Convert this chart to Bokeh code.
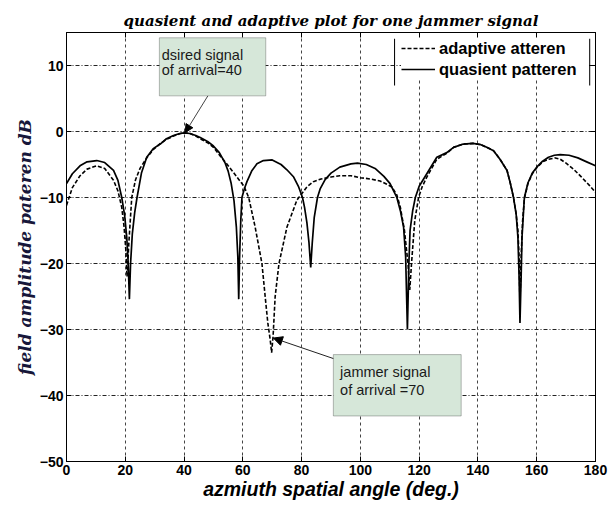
from bokeh.plotting import figure
from bokeh.models import (Range1d, FixedTicker, Legend, LegendItem, BoxAnnotation,
                          Label, Arrow, NormalHead, LinearAxis)
from bokeh.embed import file_html
from bokeh.resources import INLINE

# ---------------- data ----------------
x_ticks = [0, 20, 40, 60, 80, 100, 120, 140, 160, 180]
y_ticks = [-50, -40, -30, -20, -10, 0, 10]

quiescent_angle = [
    0, 2, 4.6, 7, 10.3, 13, 16, 17.5, 18.8, 19.8,
    20.5, 21.0, 21.4, 21.8, 22.4, 23.2, 24, 25.5, 27.3, 29.5,
    31.9, 34, 36.4, 38.5, 40, 42, 44, 45.5, 48, 50,
    52, 54, 55, 56, 57, 57.8, 58.3, 58.6, 58.9, 59.3,
    59.7, 60.5, 61.4, 63, 64.8, 67, 70, 73, 75, 77.3,
    79, 80.3, 81, 81.8, 82.5, 83.1, 83.6, 84.3, 85.4, 86.3,
    88, 90, 93, 96.8, 99, 102, 105, 108, 110.1, 111.3,
    112.4, 113.6, 114.7, 115.4, 116.0, 116.5, 116.9, 117.8, 118.7, 120,
    122.6, 126, 129.4, 131.7, 135, 138.3, 141, 143, 145.3, 147.5,
    149.9, 151, 152.1, 153, 153.6, 154.0, 154.3, 154.7, 155.0, 155.4,
    155.8, 157, 158.5, 160, 162, 164, 166, 168, 171, 174,
    177, 180]
quiescent_db = [
    -7.9, -6.4, -5.2, -4.6, -4.4, -4.7, -5.9, -7.4, -10, -12.8,
    -16, -20, -25.4, -20, -15.5, -12.3, -10, -6.3, -3.9, -2.6,
    -1.9, -1.1, -0.6, -0.3, -0.2, -0.3, -0.6, -0.9, -1.5, -2.2,
    -3.2, -4.8, -6.0, -7.8, -10.5, -14.5, -19, -25.4, -19, -13.5,
    -10, -8.7, -7.6, -6.0, -4.9, -4.4, -4.3, -5.0, -5.8, -6.9,
    -8.4, -10, -11.5, -13.8, -16.8, -20.6, -17, -13, -10, -8.7,
    -7.3, -6.3, -5.4, -4.9, -4.8, -5.0, -5.6, -6.8, -7.9, -9.0,
    -10, -12, -14.5, -19, -30, -20, -15, -12, -10, -8.3,
    -6.4, -3.9, -3.2, -2.4, -1.9, -1.8, -2.0, -2.4, -2.9, -4.2,
    -5.9, -7.8, -10, -12.5, -16, -22, -29, -22, -16, -13,
    -10, -7.8, -6.3, -5.4, -4.5, -3.9, -3.6, -3.5, -3.6, -4.0,
    -4.6, -5.2]

adaptive_angle = [
    0, 2, 4.6, 7, 10.3, 13, 16, 17.5, 18.8, 19.6,
    20.2, 20.6, 21.2, 22.2, 23.5, 25, 27.3, 29.6, 32, 34,
    36.4, 38.5, 40, 42, 44, 45.5, 48, 50, 52.3, 54.5,
    56.8, 58.5, 60.4, 62, 64.2, 66.5, 67.6, 68.5, 69.3, 69.8,
    70.3, 71, 72.3, 75, 78.4, 81.8, 84, 86.6, 90, 93,
    96.8, 100, 103.5, 106.7, 109, 110.7, 112.4, 113.6, 115, 116.2,
    116.8, 117.4, 118.5, 119.8, 121, 122.6, 126, 129.4, 131.7, 135,
    138.3, 141, 143, 145.3, 147.5, 149.9, 151, 152.1, 153, 153.6,
    154.0, 154.3, 154.7, 155.2, 155.8, 157, 158.5, 160, 162, 164,
    166.3, 168, 170, 172.5, 175, 178, 180]
adaptive_db = [
    -11.2, -8.5, -6.7, -5.7, -5.2, -5.6, -7.4, -9.0, -11.5, -14.5,
    -18, -22, -17, -10, -7.3, -5.6, -4.0, -2.7, -1.8, -1.2,
    -0.7, -0.35, -0.2, -0.3, -0.7, -1.1, -1.7, -2.4, -3.7, -4.9,
    -6.2, -7.2, -8.3, -10, -14.5, -20, -25, -29, -31.5, -33.5,
    -31, -25, -20, -14.5, -10.4, -8.4, -7.6, -7.2, -6.9, -6.7,
    -6.7, -7.0, -7.2, -7.5, -8.0, -8.4, -9.6, -11.5, -15, -20,
    -24, -20, -13.5, -10, -8.4, -6.9, -4.2, -3.3, -2.4, -1.9,
    -1.8, -2.0, -2.4, -2.9, -4.2, -5.9, -7.8, -10, -12.5, -15,
    -19, -26, -19, -13.5, -10.2, -7.9, -6.4, -5.5, -4.6, -4.2,
    -4.0, -4.2, -4.8, -5.7, -6.8, -8.2, -9.2]

title_text = "quasient and adaptive plot for one jammer signal"
x_label = "azmiuth spatial angle (deg.)"
y_label = "field amplitude pateren dB"
legend_labels = ["adaptive atteren", "quasient patteren"]
note1_lines = ["dsired signal", "of arrival=40"]
note2_lines = ["jammer signal", "of arrival =70"]
desired_doa = (40.4, -0.15)
jammer_doa = (70.4, -31.3)

# ---------------- figure ----------------
p = figure(width=608, height=506, x_range=Range1d(0, 180), y_range=Range1d(-50, 15),
           output_backend="svg", toolbar_location=None,
           min_border_left=66, min_border_right=13, min_border_top=32, min_border_bottom=45)

p.title.text = title_text
p.title.align = "center"
p.title.text_font = "DejaVu Serif"
p.title.text_font_style = "bold italic"
p.title.text_font_size = "15px"
p.title.text_color = "black"
p.title.standoff = 5

p.background_fill_color = "white"
p.border_fill_color = "white"
p.outline_line_color = "black"
p.outline_line_width = 1
p.outline_line_alpha = 1

# mirrored tick marks on top and right (no labels)
p.add_layout(LinearAxis(major_label_overrides={t: "" for t in x_ticks}), "above")
p.add_layout(LinearAxis(major_label_overrides={t: "" for t in y_ticks}), "right")

for ax in p.axis:
    ax.major_tick_in = 5
    ax.major_tick_out = 0
    ax.minor_tick_line_color = None
    ax.axis_line_color = "black"
    ax.major_tick_line_color = "black"
    ax.major_label_text_font = "Liberation Sans"
    ax.major_label_text_font_style = "bold"
    ax.major_label_text_font_size = "14px"
    ax.major_label_text_color = "black"

for ax in p.xaxis:
    ax.ticker = FixedTicker(ticks=x_ticks)
for ax in p.yaxis:
    ax.ticker = FixedTicker(ticks=y_ticks)

for ax in (p.above[-1], p.right[-1]):
    ax.major_label_standoff = 0
    ax.axis_label_standoff = 0
    ax.major_label_text_font_size = "2px"

bottom_axis = p.below[0]
left_axis = p.left[0]
bottom_axis.major_label_standoff = 3
left_axis.major_label_standoff = 3
bottom_axis.axis_label = x_label
bottom_axis.axis_label_text_font = "Liberation Sans"
bottom_axis.axis_label_text_font_style = "bold italic"
bottom_axis.axis_label_text_font_size = "19.5px"
bottom_axis.axis_label_text_color = "black"
bottom_axis.axis_label_standoff = 0

left_axis.axis_label = y_label
left_axis.axis_label_text_font = "DejaVu Serif"
left_axis.axis_label_text_font_style = "bold italic"
left_axis.axis_label_text_font_size = "17px"
left_axis.axis_label_text_color = "#17173a"
left_axis.axis_label_standoff = 2

p.xgrid.grid_line_color = "#444444"
p.xgrid.grid_line_dash = "3 3"
p.ygrid.grid_line_color = "#222222"
p.ygrid.grid_line_dash = "4 2 1 2"

r_adapt = p.line(adaptive_angle, adaptive_db, line_color="black", line_width=1.6, line_dash="4 2")
r_quiet = p.line(quiescent_angle, quiescent_db, line_color="black", line_width=1.7)

legend = Legend(items=[LegendItem(label=legend_labels[0], renderers=[r_adapt]),
                       LegendItem(label=legend_labels[1], renderers=[r_quiet])],
                location="top_right", margin=6, padding=3, spacing=1,
                glyph_width=34, glyph_height=20, label_standoff=4, label_width=150,
                label_text_font="Liberation Sans", label_text_font_style="bold",
                label_text_font_size="16.5px", label_text_color="black",
                border_line_color=None, background_fill_color="white", background_fill_alpha=1)
p.add_layout(legend)

# left/right edges of the legend frame
p.add_layout(BoxAnnotation(left=111.45, right=111.8, bottom=6.97, top=14.05,
                           fill_color="black", fill_alpha=1, line_color=None))
p.add_layout(BoxAnnotation(left=177.85, right=178.2, bottom=6.97, top=14.05,
                           fill_color="black", fill_alpha=1, line_color=None))

# annotation boxes
box_fill = "#d6e7d9"
p.add_layout(BoxAnnotation(left=31.6, right=67.8, bottom=5.4, top=14.2,
                           fill_color=box_fill, fill_alpha=1, line_color="#222222", line_width=1))
p.add_layout(BoxAnnotation(left=90.8, right=134.3, bottom=-43.1, top=-33.8,
                           fill_color=box_fill, fill_alpha=1, line_color="#222222", line_width=1))

for txt, yy in zip(note1_lines, (11.6, 9.3)):
    p.add_layout(Label(x=32.4, y=yy, text=txt, text_font="Liberation Sans",
                       text_font_size="14.5px", text_color="#1a1a1a", text_baseline="alphabetic"))
for txt, yy in zip(note2_lines, (-36.5, -39.1)):
    p.add_layout(Label(x=93.1, y=yy, text=txt, text_font="Liberation Sans",
                       text_font_size="14.5px", text_color="#1a1a1a", text_baseline="alphabetic"))

p.add_layout(Arrow(x_start=48.1, y_start=5.4, x_end=desired_doa[0], y_end=desired_doa[1],
                   line_color="#444444", line_width=1,
                   end=NormalHead(size=8, fill_color="black", line_color="black")))
p.add_layout(Arrow(x_start=90.8, y_start=-34.4, x_end=jammer_doa[0], y_end=jammer_doa[1],
                   line_color="#222222", line_width=1,
                   end=NormalHead(size=9, fill_color="black", line_color="black")))

open("out.html", "w").write(file_html(p, INLINE))
